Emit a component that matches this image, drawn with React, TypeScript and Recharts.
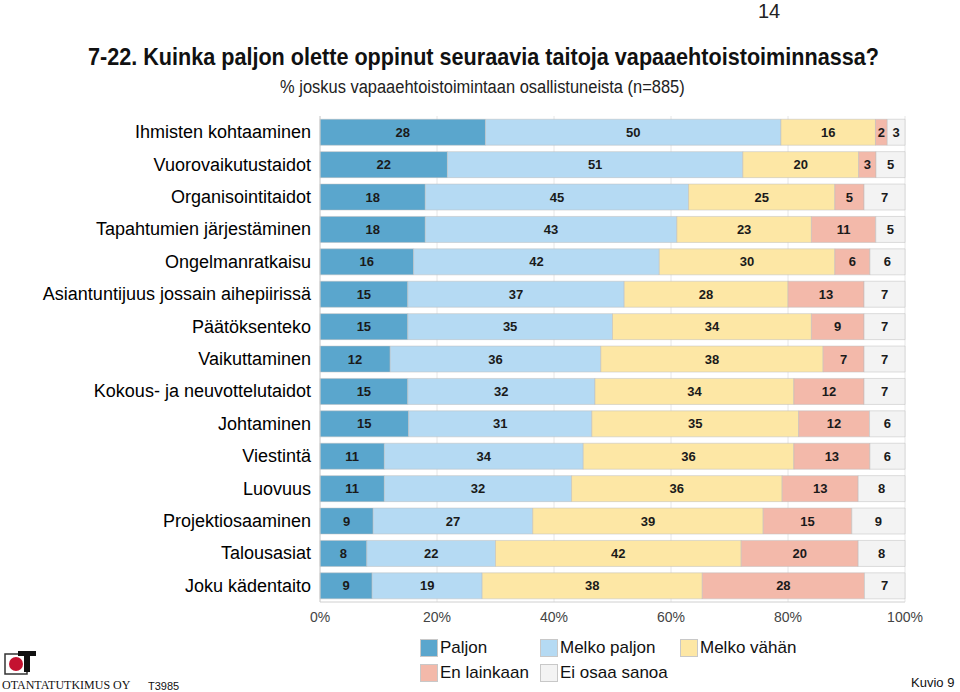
import { BarChart, Bar, XAxis, YAxis, CartesianGrid, LabelList } from 'recharts';

const categories = [
  'Ihmisten kohtaaminen',
  'Vuorovaikutustaidot',
  'Organisointitaidot',
  'Tapahtumien järjestäminen',
  'Ongelmanratkaisu',
  'Asiantuntijuus jossain aihepiirissä',
  'Päätöksenteko',
  'Vaikuttaminen',
  'Kokous- ja neuvottelutaidot',
  'Johtaminen',
  'Viestintä',
  'Luovuus',
  'Projektiosaaminen',
  'Talousasiat',
  'Joku kädentaito',
];

const paljon = [28, 22, 18, 18, 16, 15, 15, 12, 15, 15, 11, 11, 9, 8, 9];
const melkoPaljon = [50, 51, 45, 43, 42, 37, 35, 36, 32, 31, 34, 32, 27, 22, 19];
const melkoVahan = [16, 20, 25, 23, 30, 28, 34, 38, 34, 35, 36, 36, 39, 42, 38];
const enLainkaan = [2, 3, 5, 11, 6, 13, 9, 7, 12, 12, 13, 13, 15, 20, 28];
const eiOsaa = [3, 5, 7, 5, 6, 7, 7, 7, 7, 6, 6, 8, 9, 8, 7];

const xTicks = [0, 0.2, 0.4, 0.6, 0.8, 1];

const series = [
  { key: 'p', name: 'Paljon', color: '#5aa6cd' },
  { key: 'mp', name: 'Melko paljon', color: '#b5daf3' },
  { key: 'mv', name: 'Melko vähän', color: '#fde7a5' },
  { key: 'el', name: 'En lainkaan', color: '#f3b9aa' },
  { key: 'eo', name: 'Ei osaa sanoa', color: '#f3f3f3' },
];

const data = categories.map((c, i) => ({
  name: c,
  p: paljon[i],
  mp: melkoPaljon[i],
  mv: melkoVahan[i],
  el: enLainkaan[i],
  eo: eiOsaa[i],
}));

const sans = '"Liberation Sans", Arial, sans-serif';

function CategoryTick(props: any) {
  const { x, y, payload } = props;
  return (
    <text
      x={x - 1}
      y={y}
      textAnchor="end"
      dominantBaseline="central"
      fontFamily={sans}
      fontSize={18}
      fill="#000"
    >
      {payload.value}
    </text>
  );
}

function LegendItem({ name, color, left, top }: { name: string; color: string; left: number; top: number }) {
  return (
    <div style={{ position: 'absolute', left, top, display: 'flex', alignItems: 'center', whiteSpace: 'nowrap' }}>
      <span style={{ width: 16, height: 16, background: color, border: '1px solid #c8c8c8', marginRight: 2 }} />
      <span style={{ fontFamily: sans, fontSize: 17, color: '#111' }}>{name}</span>
    </div>
  );
}

export default function App() {
  return (
    <div style={{ position: 'absolute', left: 0, top: 0, width: 960, height: 692, background: '#fff', overflow: 'hidden' }}>
      <div style={{ position: 'absolute', left: 758, top: 0, fontFamily: sans, fontSize: 20, color: '#222' }}>14</div>
      <div style={{ position: 'absolute', left: 0, width: 966, top: 43, textAlign: 'center' }}>
        <span style={{ display: 'inline-block', transform: 'scaleX(0.9)', fontFamily: sans, fontWeight: 'bold', fontSize: 24, color: '#111', whiteSpace: 'nowrap' }}>
          7-22. Kuinka paljon olette oppinut seuraavia taitoja vapaaehtoistoiminnassa?
        </span>
      </div>
      <div style={{ position: 'absolute', left: 0, width: 964, top: 77, textAlign: 'center' }}>
        <span style={{ display: 'inline-block', transform: 'scaleX(0.914)', fontFamily: sans, fontSize: 18, color: '#222', whiteSpace: 'nowrap' }}>
          % joskus vapaaehtoistoimintaan osallistuneista (n=885)
        </span>
      </div>
      <div style={{ position: 'absolute', left: 0, top: 0 }}>
        <BarChart
          width={960}
          height={692}
          data={data}
          layout="vertical"
          stackOffset="expand"
          barCategoryGap="10%"
          margin={{ top: 116, right: 55, left: 10, bottom: 60 }}
        >
          <CartesianGrid horizontal={false} stroke="#e6e6e6" />
          <XAxis
            type="number"
            domain={[0, 1]}
            ticks={xTicks}
            tickFormatter={(v: number) => `${Math.round(v * 100)}%`}
            tick={{ fontSize: 14, fill: '#444', fontFamily: sans }}
            axisLine={{ stroke: '#d0d0d0' }}
            tickLine={false}
            tickMargin={4}
            height={30}
          />
          <XAxis xAxisId="top" orientation="top" type="number" domain={[0, 1]} tick={false} axisLine={{ stroke: '#d0d0d0' }} tickLine={false} height={0} />
          <YAxis
            type="category"
            dataKey="name"
            width={310}
            tick={<CategoryTick />}
            axisLine={{ stroke: '#d0d0d0' }}
            tickLine={false}
          />
          <YAxis yAxisId="right" orientation="right" type="category" dataKey="name" tick={false} axisLine={{ stroke: '#d0d0d0' }} tickLine={false} width={0} />
          {series.map((s) => (
            <Bar key={s.key} dataKey={s.key} name={s.name} stackId="a" fill={s.color} stroke="#bcbcbc" strokeWidth={0.5} isAnimationActive={false}>
              <LabelList dataKey={s.key} position="center" style={{ fontSize: 13, fontWeight: 'bold', fill: '#1a1a1a', fontFamily: sans }} />
            </Bar>
          ))}
        </BarChart>
      </div>
      <LegendItem name={series[0].name} color={series[0].color} left={420} top={638} />
      <LegendItem name={series[1].name} color={series[1].color} left={540} top={638} />
      <LegendItem name={series[2].name} color={series[2].color} left={680} top={638} />
      <LegendItem name={series[3].name} color={series[3].color} left={420} top={663} />
      <LegendItem name={series[4].name} color={series[4].color} left={540} top={663} />
      <svg style={{ position: 'absolute', left: 4, top: 650 }} width={34} height={26}>
        <rect x={1} y={4} width={22} height={20} fill="#fff" stroke="#333" strokeWidth={1.5} />
        <circle cx={12} cy={14} r={7} fill="#c41230" />
        <rect x={14} y={1} width={18} height={5} fill="#111" />
        <rect x={20} y={1} width={6} height={21} fill="#111" />
      </svg>
      <div style={{ position: 'absolute', left: 2, top: 678, fontFamily: '"Liberation Serif", serif', fontSize: 12, color: '#111', whiteSpace: 'nowrap' }}>
        OTANTATUTKIMUS OY
      </div>
      <div style={{ position: 'absolute', left: 148, top: 680, fontFamily: sans, fontSize: 11, color: '#111' }}>T3985</div>
      <div style={{ position: 'absolute', left: 911, top: 675, fontFamily: sans, fontSize: 13, color: '#111', whiteSpace: 'nowrap' }}>Kuvio 9</div>
    </div>
  );
}
